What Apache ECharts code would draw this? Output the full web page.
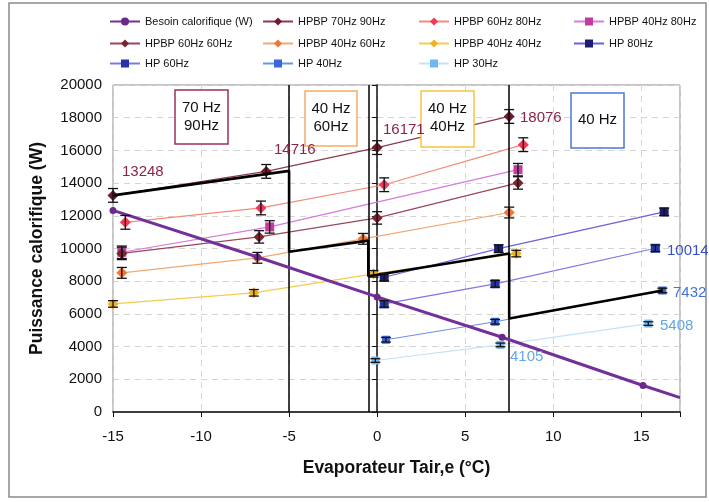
<!DOCTYPE html>
<html><head><meta charset="utf-8">
<script src="https://cdn.jsdelivr.net/npm/echarts/dist/echarts.min.js"></script>
<style>html,body{margin:0;padding:0;background:#fff}#c{width:709px;height:502px}</style>
</head><body><div id="c"></div>
<script>
// ---- data ----
const xTicks = [-15, -10, -5, 0, 5, 10, 15];
const besoinX = [-15, -6.8, 0, 7.1, 15.1, 17.2];
const besoinY = [12330, 9480, 7040, 4570, 1620, 880];
const besoinMarked = [true, true, true, true, true, false];

const hpbp70_90X = [-15, -6.3, 0, 7.5];
const hpbp70_90Y = [13248, 14716, 16171, 18076];
const hpbp60_80X = [-14.3, -6.6, 0.4, 8.3];
const hpbp60_80Y = [11600, 12480, 13900, 16350];
const hpbp40_80X = [-14.5, -6.1, 8.0];
const hpbp40_80Y = [9770, 11320, 14820];
const hpbp60_60X = [-14.5, -6.7, 0.0, 8.0];
const hpbp60_60Y = [9700, 10710, 11870, 14010];
const hpbp40_60X = [-14.5, -6.8, -0.8, 7.5];
const hpbp40_60Y = [8510, 9430, 10590, 12200];
const hpbp40_40X = [-15, -7.0, -0.2, 7.9];
const hpbp40_40Y = [6610, 7290, 8450, 9690];
const hp80X = [0.4, 6.9, 16.3];
const hp80Y = [8240, 9990, 12240];
const hp60X = [0.4, 6.7, 15.8];
const hp60Y = [6610, 7840, 10014];
const hp40X = [0.5, 6.7, 16.2];
const hp40Y = [4420, 5520, 7432];
const hp30X = [-0.1, 7.0, 15.4];
const hp30Y = [3150, 4105, 5408];

// selected operating curve (thick black)
const opX = [-15, -5, -5, -0.5, -0.5, 7.5, 7.5, 16.2];
const opY = [13248, 14750, 9800, 10480, 8300, 9690, 5715, 7432];
const switchX = [-5, -0.5, 7.5];

// error bar half-heights (W) per series
const errHalf = {
  'HPBP 70Hz 90Hz': 420, 'HPBP 60Hz 80Hz': 420, 'HPBP 40Hz 80Hz': 380,
  'HPBP 60Hz 60Hz': 380, 'HPBP 40Hz 60Hz': 330, 'HPBP 40Hz 40Hz': 200,
  'HP 80Hz': 230, 'HP 60Hz': 200, 'HP 40Hz': 140, 'HP 30Hz': 110
};

const FONT = 'Liberation Sans, Arial, sans-serif';
const pair = (xs, ys) => xs.map((x, i) => [x, ys[i]]);

const defs = [
  {name:'HPBP 70Hz 90Hz', x:hpbp70_90X, y:hpbp70_90Y, color:'#6e1a2e', line:'#8c3a4c', symbol:'diamond', size:11},
  {name:'HPBP 60Hz 80Hz', x:hpbp60_80X, y:hpbp60_80Y, color:'#f2385a', line:'#f28a78', symbol:'diamond', size:11},
  {name:'HPBP 40Hz 80Hz', x:hpbp40_80X, y:hpbp40_80Y, color:'#c23c9e', line:'#d77ae0', symbol:'rect', size:9},
  {name:'HPBP 60Hz 60Hz', x:hpbp60_60X, y:hpbp60_60Y, color:'#7a2432', line:'#9a4858', symbol:'diamond', size:11},
  {name:'HPBP 40Hz 60Hz', x:hpbp40_60X, y:hpbp40_60Y, color:'#f2763a', line:'#f2a870', symbol:'diamond', size:11},
  {name:'HPBP 40Hz 40Hz', x:hpbp40_40X, y:hpbp40_40Y, color:'#f2b01e', line:'#f2cc50', symbol:'diamond', size:11},
  {name:'HP 80Hz', x:hp80X, y:hp80Y, color:'#1c1c72', line:'#6a62d8', symbol:'rect', size:9},
  {name:'HP 60Hz', x:hp60X, y:hp60Y, color:'#2434a8', line:'#7c78e6', symbol:'rect', size:9},
  {name:'HP 40Hz', x:hp40X, y:hp40Y, color:'#3a66d8', line:'#6a92e6', symbol:'rect', size:8},
  {name:'HP 30Hz', x:hp30X, y:hp30Y, color:'#72b8f0', line:'#c4e2f8', symbol:'rect', size:8}
];

const series = [];
series.push({
  name:'Besoin calorifique (W)', type:'line', z:6,
  data: besoinX.map((x, i) => ({value:[x, besoinY[i]], symbol: besoinMarked[i] ? 'circle' : 'none'})),
  symbol:'circle', symbolSize:7, color:'#6a2a8c',
  lineStyle:{color:'#74309a', width:3}, itemStyle:{color:'#6a2a8c'}
});
defs.forEach(d => {
  series.push({
    name:d.name, type:'line', z:4, data:pair(d.x, d.y),
    symbol:d.symbol, symbolSize:d.size, color:d.color,
    itemStyle:{color:d.color}, lineStyle:{color:d.line, width:1.2}
  });
});
series.push({
  name:'op', type:'line', z:5, data:pair(opX, opY), symbol:'none',
  lineStyle:{color:'#000', width:2.6}, silent:true,
  markLine:{symbol:'none', silent:true, label:{show:false},
    lineStyle:{color:'#000', width:1.5, type:'solid'},
    data: switchX.map(v => ({xAxis:v}))}
});
const errData = [];
defs.forEach(d => d.x.forEach((x, i) => errData.push([x, d.y[i], errHalf[d.name]])));
series.push({
  name:'err', type:'custom', z:7, silent:true, encode:{x:0, y:1}, data:errData,
  renderItem:(p, api) => {
    const x = api.value(0), y = api.value(1), e = api.value(2);
    const t = api.coord([x, y + e]), b = api.coord([x, y - e]);
    const w = 5;
    const st = {stroke:'#111', lineWidth:1.3};
    return {type:'group', children:[
      {type:'line', shape:{x1:t[0], y1:t[1], x2:b[0], y2:b[1]}, style:st},
      {type:'line', shape:{x1:t[0]-w, y1:t[1], x2:t[0]+w, y2:t[1]}, style:st},
      {type:'line', shape:{x1:b[0]-w, y1:b[1], x2:b[0]+w, y2:b[1]}, style:st}
    ]};
  }
});

const legendNames = ['Besoin calorifique (W)'].concat(defs.map(d => d.name));
const legendCols = [104, 257, 413, 568];
const legendRows = [11, 33, 53];
const legends = legendNames.map((n, i) => ({
  data:[n], left:legendCols[i % 4], top:legendRows[Math.floor(i / 4)],
  itemWidth:30, itemHeight:10, itemGap:4, selectedMode:false,
  textStyle:{fontSize:11, color:'#111', fontFamily:FONT}
}));

function box(x, y, w, h, color, lines, lineYs) {
  const els = [{type:'rect', shape:{x:x, y:y, width:w, height:h},
    style:{fill:'#fff', stroke:color, lineWidth:1.5}, z:100}];
  lines.forEach((t, i) => els.push({type:'text', x:x + w/2, y:lineYs[i], z:101,
    style:{text:t, fill:'#111', font:'15px ' + FONT, textAlign:'center', textVerticalAlign:'middle'}}));
  return els;
}
function lab(x, y, text, color) {
  return {type:'text', x:x, y:y, z:102,
    style:{text:text, fill:color, font:'15px ' + FONT, textVerticalAlign:'middle'}};
}

const graphic = [].concat(
  box(175, 90, 53, 54, '#9c3060', ['70 Hz', '90Hz'], [108, 126]),
  box(305, 91, 52, 55, '#f2aa6a', ['40 Hz', '60Hz'], [109, 127]),
  box(421, 91, 53, 56, '#f2c642', ['40 Hz', '40Hz'], [109, 127]),
  box(571, 93, 53, 55, '#4c7ad2', ['40 Hz'], [120]),
  [
    lab(122, 172, String(hpbp70_90Y[0]), '#8a2446'),
    lab(274, 150, String(hpbp70_90Y[1]), '#8a2446'),
    lab(383, 130, String(hpbp70_90Y[2]), '#8a2446'),
    lab(520, 118, String(hpbp70_90Y[3]), '#8a2446'),
    lab(667, 251, String(hp60Y[2]), '#3450c4'),
    lab(673, 293, String(hp40Y[2]), '#4272d8'),
    lab(660, 326, String(hp30Y[2]), '#62a6ea'),
    lab(510, 357, String(hp30Y[1]), '#62a6ea'),
    {type:'rect', shape:{x:9, y:3, width:697, height:494}, style:{fill:'none', stroke:'#8a8a8a', lineWidth:1.5}, z:0, silent:true}
  ]
);

const chart = echarts.init(document.getElementById('c'), null, {renderer:'canvas'});
chart.setOption({
  animation:false,
  textStyle:{fontFamily:FONT},
  grid:{left:113, right:29, top:85, bottom:90, show:true, borderColor:'#8a8a8a', borderWidth:1, backgroundColor:'transparent'},
  legend:legends,
  xAxis:{
    type:'value', min:-15, max:17.2, interval:5,
    name:'Evaporateur Tair,e (°C)', nameLocation:'middle', nameGap:47,
    nameTextStyle:{fontSize:17.5, fontWeight:'bold', color:'#111'},
    axisLine:{onZero:false, lineStyle:{color:'#111', width:1.5}},
    axisTick:{show:true, length:5, lineStyle:{color:'#111'}},
    axisLabel:{fontSize:15, color:'#111', margin:17, formatter:v => (xTicks.indexOf(v) >= 0 ? String(v) : '')},
    splitLine:{show:true, lineStyle:{color:'#d4d4d4', type:[6, 5]}}
  },
  yAxis:{
    type:'value', min:0, max:20000, interval:2000,
    name:'Puissance calorifique (W)', nameLocation:'middle', nameGap:67,
    nameTextStyle:{fontSize:17.5, fontWeight:'bold', color:'#111'},
    axisLine:{show:true, lineStyle:{color:'#111', width:1.5}},
    axisTick:{show:true, length:5, lineStyle:{color:'#111'}},
    axisLabel:{fontSize:15, color:'#111', margin:11, formatter:v => String(v)},
    splitLine:{show:true, lineStyle:{color:'#d4d4d4', type:[6, 5]}}
  },
  graphic:graphic,
  series:series
});
</script></body></html>
